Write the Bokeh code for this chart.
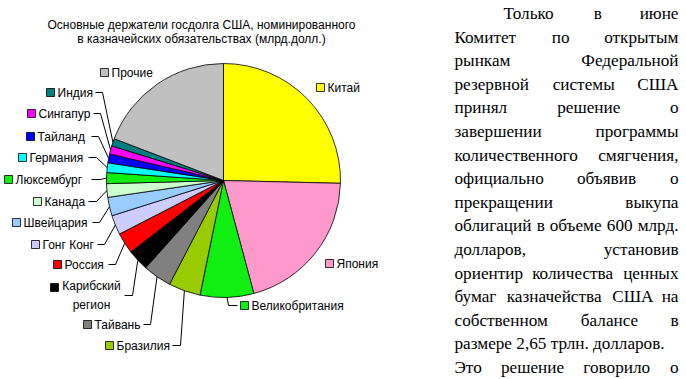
import numpy as np
from bokeh.plotting import figure
from bokeh.models import Range1d, ColumnDataSource
from bokeh.core.properties import value
from bokeh.embed import file_html
from bokeh.resources import INLINE

# ---------------- data ----------------
title_lines = ["Основные держатели госдолга США, номинированного",
               "в казначейских обязательствах (млрд.долл.)"]

countries = ["Китай", "Япония", "Великобритания", "Бразилия", "Тайвань",
             "Карибский регион", "Россия", "Гонг Конг", "Швейцария", "Канада",
             "Люксембург", "Германия", "Тайланд", "Сингапур", "Индия", "Прочие"]
holdings = [1160, 934, 338, 202, 181, 135, 132, 123, 117, 86, 69, 61, 56, 52, 47, 877]
colors = ["#FFFF00", "#FF99CC", "#11EE11", "#99CC00", "#808080",
          "#000000", "#FF0000", "#CCCCFF", "#99CCFF", "#CCFFCC",
          "#11EE11", "#00FFFF", "#0000FF", "#FF00FF", "#008080", "#C0C0C0"]

paragraph = ["Только в июне", "Комитет по открытым", "рынкам Федеральной",
             "резервной системы США", "принял решение о", "завершении программы",
             "количественного смягчения,", "официально объявив о",
             "прекращении выкупа", "облигаций в объеме 600 млрд.",
             "долларов, установив", "ориентир количества ценных",
             "бумаг казначейства США на", "собственном балансе в",
             "размере 2,65 трлн. долларов.", "Это решение говорило о"]

# ---------------- layout (picture pixel coordinates, y downward) ----------------
W, H = 686, 379
def Y(img_y):
    return H - img_y

CX, CY, R = 223, 180, 117

# label layout per country: square-left x, square y, leader y, leader start x, leader elbow x
label_layout = [
    (316, 87, None, None, None),      # Китай
    (325, 263, None, None, None),     # Япония
    (240, 305, 305, 237, 228),        # Великобритания
    (105, 345, 345, 172, 180),        # Бразилия
    (83, 324, 324, 143, 150),         # Тайвань
    (50, 287, 295, 124, 132),         # Карибский регион
    (53, 264, 264, 108, 115),         # Россия
    (31, 244, 244, 97, 104),          # Гонг Конг
    (12, 222, 222, 92, 99),           # Швейцария
    (33, 201, 201, 88, 96),           # Канада
    (4, 179, 179, 91, 100),           # Люксембург
    (18, 157, 157, 88, 96),           # Германия
    (26, 136, 136, 91, 98),           # Тайланд
    (27, 113, 113, 93, 100),          # Сингапур
    (46, 92, 92, 95, 102),            # Индия
    (100, 72, None, None, None),      # Прочие
]

# paragraph typesetting (justified, Times-metric serif)
PARA_FS = 17.2
para_left, para_right, para_indent = 454, 678, 503
para_base0, para_step = 13, 23.6
natural_lines = {14}
# approximate advance widths (em) of Times-metric glyphs, for justification
ADV = {" ": .25, ",": .25, ".": .25, "0": .5, "2": .5, "5": .5, "6": .5,
       "а": .444, "б": .5, "в": .472, "г": .41, "д": .5, "е": .444, "ж": .691,
       "з": .395, "и": .535, "й": .535, "к": .486, "л": .5, "м": .633,
       "н": .535, "о": .5, "п": .535, "р": .5, "с": .444, "т": .437, "у": .5,
       "ф": .648, "х": .5, "ц": .535, "ч": .5, "ш": .77, "щ": .77, "ъ": .517,
       "ы": .672, "ь": .456, "э": .429, "ю": .747, "я": .482,
       "А": .722, "К": .667, "С": .667, "Т": .611, "Ф": .716, "Ш": .936, "Э": .648}

def word_w(w):
    return sum(ADV.get(ch, .5) for ch in w) * PARA_FS

# ---------------- figure ----------------
p = figure(width=W, height=H, output_backend="svg", toolbar_location=None,
           x_range=Range1d(0, W), y_range=Range1d(0, H),
           min_border=0, background_fill_color="white", border_fill_color="white")
p.axis.visible = False
p.grid.visible = False
p.outline_line_color = None

# pie
vals = np.array(holdings, dtype=float)
T = vals.sum()
cum = np.concatenate([[0], np.cumsum(vals)])
start = np.pi / 2 - 2 * np.pi * cum[:-1] / T
end = np.pi / 2 - 2 * np.pi * cum[1:] / T
pie_src = ColumnDataSource(dict(start=start, end=end, color=colors, name=countries))
p.wedge(x=CX, y=Y(CY), radius=R, start_angle="start", end_angle="end",
        direction="clock", fill_color="color", line_color="black",
        line_width=0.8, source=pie_src)

# leader lines
mid = 2 * np.pi * (cum[:-1] + vals / 2) / T
lx, ly = [], []
for i, lay in enumerate(label_layout):
    sx, sy, ley, x0, x1 = lay
    if x0 is None:
        continue
    ex = CX + R * np.sin(mid[i])
    ey = Y(CY) + R * np.cos(mid[i])
    lx.append([x0, x1, ex])
    ly.append([Y(ley), Y(ley), ey])
p.multi_line(xs=lx, ys=ly, line_color="black", line_width=1)

# legend squares and labels
sq_x = [l[0] + 4 for l in label_layout]
sq_y = [Y(l[1]) for l in label_layout]
p.rect(x=sq_x, y=sq_y, width=8, height=8, fill_color=colors,
       line_color="black", line_width=0.8)

tx, ty, tt, ta = [], [], [], []
for name, lay in zip(countries, label_layout):
    sx, sy = lay[0], lay[1]
    if name == "Карибский регион":
        tx.append(sx + 41); ty.append(Y(sy + 8))
        tt.append("Карибский\nрегион"); ta.append("center")
    else:
        tx.append(sx + 11); ty.append(Y(sy))
        tt.append(name); ta.append("left")
p.text(x=tx, y=ty, text=tt, text_align=ta, text_baseline="middle",
       text_font=value("Liberation Sans"), text_font_size="12px",
       text_line_height=1.33, text_color="black")

# title
p.text(x=[201, 201], y=[Y(24), Y(38)], text=title_lines, text_align="center",
       text_baseline="middle", text_font=value("Liberation Sans"),
       text_font_size="12px", text_color="black")

# justified paragraph on the right
px, py, pt, pa = [], [], [], []
for i, line in enumerate(paragraph):
    base = Y(para_base0 + i * para_step)
    left = para_indent if i == 0 else para_left
    if i in natural_lines:
        px.append(left); py.append(base); pt.append(line); pa.append("left")
        continue
    words = line.split(" ")
    widths = [word_w(w) for w in words]
    gap = (para_right - left - sum(widths)) / (len(words) - 1)
    xpos = left
    for k, (w, ww) in enumerate(zip(words, widths)):
        if k == len(words) - 1:
            px.append(para_right); pa.append("right")
        else:
            px.append(xpos); pa.append("left")
        py.append(base); pt.append(w)
        xpos += ww + gap
p.text(x=px, y=py, text=pt, text_align=pa, text_baseline="alphabetic",
       text_font=value("Liberation Serif"), text_font_size=f"{PARA_FS}px",
       text_color="black")

open("out.html", "w").write(file_html(p, INLINE))
